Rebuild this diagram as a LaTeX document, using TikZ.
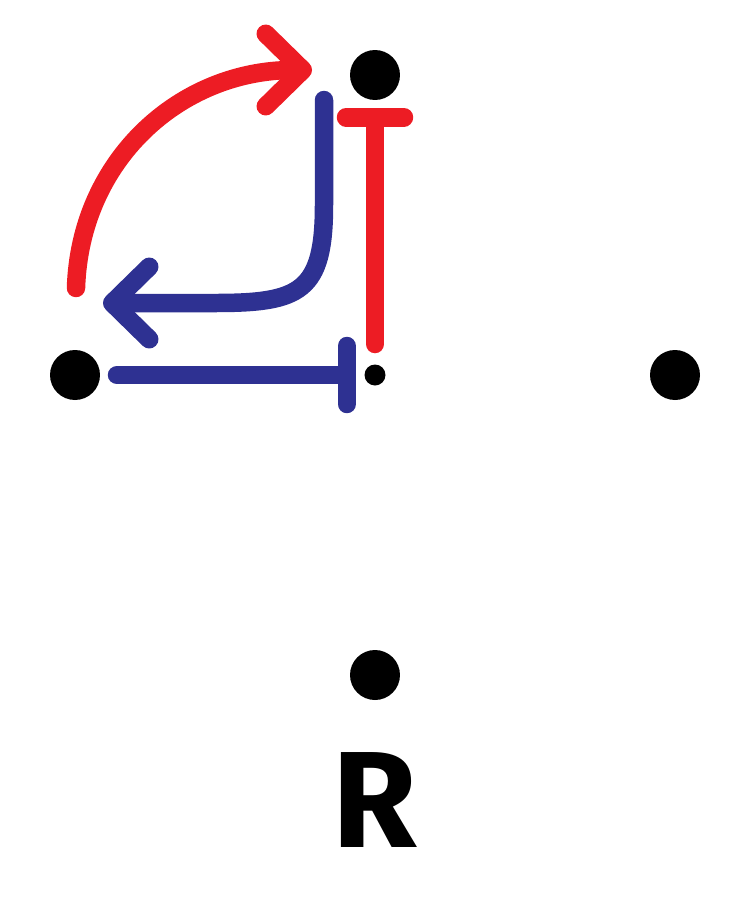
\documentclass[tikz,border=0pt]{standalone}
\usepackage{fontspec}
\setsansfont{Fira Sans}
\usetikzlibrary{arrows.meta}
\definecolor{ArcRed}{HTML}{ED1C24}
\definecolor{ArcBlue}{HTML}{2E3192}
\tikzset{
  dot/.style={circle, fill=black, inner sep=0pt, minimum size=1cm},
  smalldot/.style={circle, fill=black, inner sep=0pt, minimum size=0.42cm},
  link/.style={line width=0.37cm, line cap=round, line join=round},
  redlink/.style={link, draw=ArcRed},
  bluelink/.style={link, draw=ArcBlue},
  barb/.style={-{Straight Barb[length=0.74cm, width=1.45cm, round]}},
  inhib/.style={-{Bar[width=1.16cm, round]}}
}

\begin{document}
\begin{tikzpicture}[x=0.02cm, y=-0.02cm]
\useasboundingbox (0,0) rectangle (750,900);
% states
\node[dot] (dotN) at (375,75) {};
\node[dot] (dotW) at (75,375) {};
\node[dot] (dotE) at (675,375) {};
\node[dot] (dotS) at (375,675) {};
\node[smalldot] (dotC) at (375,375) {};
\node[font=\sffamily\bfseries\fontsize{78}{78}\selectfont] (lbl) at (375,800) {R};
% connector ends
\coordinate (redS) at (76,288);
\coordinate (redE) at (312,70);
\coordinate (blueS) at (324,100);
\coordinate (blueE) at (103,303);
\coordinate (inhS) at (375,344);
\coordinate (inhE) at (375,108);
\coordinate (ihbS) at (117,375);
\coordinate (ihbE) at (356,375);
% arrows
\draw[redlink, barb] (redS) .. controls (80,160) and (180,70) .. (redE);
\draw[bluelink, barb] (blueS) -- (324,205) .. controls (324,292) and (300,303) .. (215,303) -- (blueE);
\draw[redlink, inhib] (inhS) -- (inhE);
\draw[bluelink, inhib] (ihbS) -- (ihbE);
\end{tikzpicture}
\end{document}
